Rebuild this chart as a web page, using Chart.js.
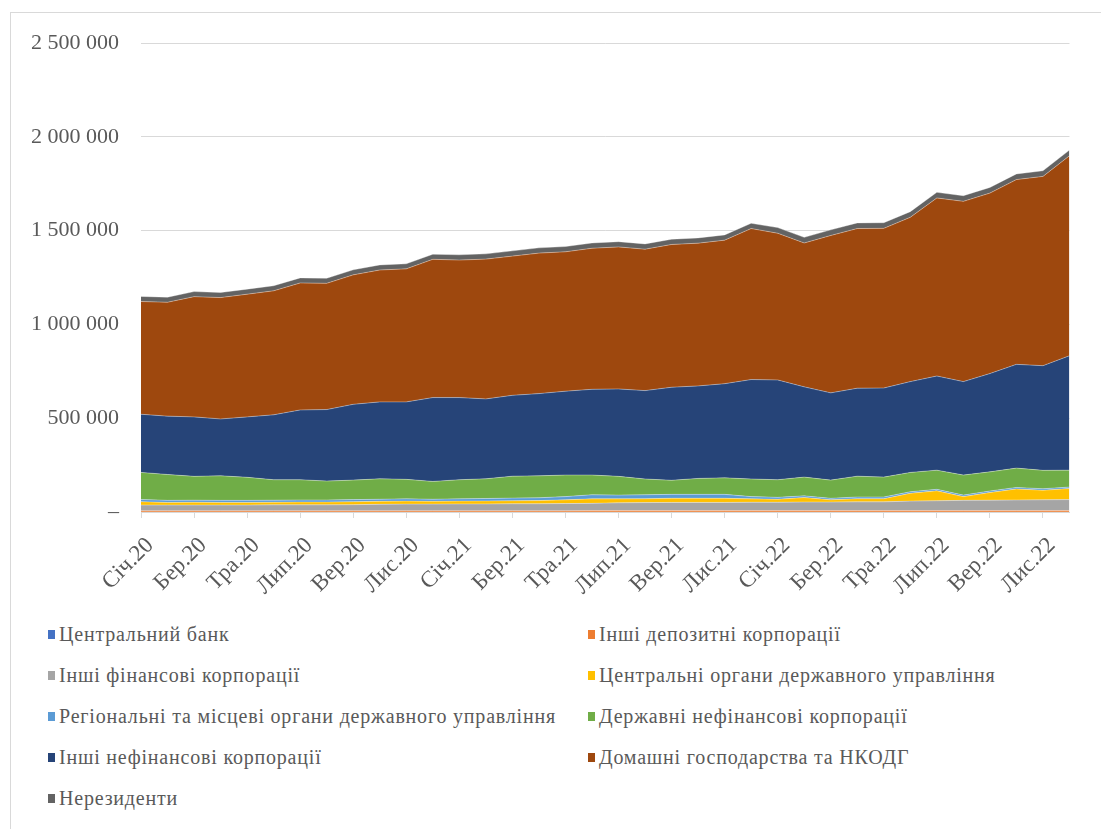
<!DOCTYPE html>
<html>
<head>
<meta charset="utf-8">
<script src="https://cdn.jsdelivr.net/npm/chart.js@4/dist/chart.umd.min.js"></script>
<style>
  body { margin: 0; background: #fff; font-family: "Liberation Serif", serif; }
  #frame { position: absolute; left: 10px; top: 12px; width: 1090px; height: 830px;
           border-left: 1px solid #d9d9d9; border-top: 1px solid #d9d9d9; }
  #chart { position: absolute; left: 0; top: 0; }
  #legend { position: absolute; left: 48px; top: 622px; display: grid;
            grid-template-columns: 540px 500px; row-gap: 16px; color: #595959;
            font-size: 20px; letter-spacing: 0.8px; }
  .item { display: flex; align-items: center; height: 25px; white-space: nowrap; }
  .box { width: 7px; height: 9px; margin-right: 4px; }
</style>
</head>
<body>
<div id="frame"></div>
<canvas id="chart" width="1103" height="610"></canvas>
<div id="legend"></div>
<script>
const labels = [
  'Січ.20','Лют.20','Бер.20','Кві.20','Тра.20','Чер.20','Лип.20','Сер.20','Вер.20','Жов.20','Лис.20','Гру.20',
  'Січ.21','Лют.21','Бер.21','Кві.21','Тра.21','Чер.21','Лип.21','Сер.21','Вер.21','Жов.21','Лис.21','Гру.21',
  'Січ.22','Лют.22','Бер.22','Кві.22','Тра.22','Чер.22','Лип.22','Сер.22','Вер.22','Жов.22','Лис.22','Гру.22'
];

const centralBank = [0,0,0,0,0,0,0,0,0,0,0,0, 0,0,0,0,0,0,0,0,0,0,0,0, 0,0,0,0,0,0,0,0,0,0,0,0];
const otherDeposit = [7000,7000,7000,7000,7000,7000,7000,7000,7000,7000,7000,7000,
  7000,7000,7000,7000,7000,8000,8000,8000,8000,8000,8000,8000,
  8000,8000,8000,8000,8000,8000,8000,8000,8000,8000,8000,8000];
const otherFinancial = [30000,30000,30000,30000,30000,31000,31000,31000,32000,34000,35000,35000,
  36000,36000,37000,37000,38000,38000,41000,42000,43000,43000,43000,44000,
  44000,45000,45000,46000,46000,50000,52000,54000,55000,56000,57000,58000];
const centralGov = [18000,14000,15000,14000,14000,14000,15000,15000,16000,16000,16000,15000,
  15000,16000,16000,17000,20000,24000,21000,21000,22000,22000,22000,18000,
  16000,24000,12000,17000,17000,42000,53000,20000,41000,59000,51000,59000];
const regionalGov = [12000,11000,11000,11000,11000,11000,11000,11000,11000,11000,12000,11000,
  12000,13000,14000,15000,17000,22000,20000,21000,21000,21000,21000,12000,
  10000,9000,8000,9000,9000,8000,8000,8000,8000,8000,8000,8000];
const stateNonfin = [144000,138000,127000,131000,123000,109000,108000,101000,104000,109000,104000,95000,
  102000,105000,117000,117000,115000,105000,100000,84000,75000,85000,88000,94000,
  94000,100000,97000,111000,106000,103000,102000,107000,102000,103000,98000,90000];
const otherNonfin = [310000,311000,317000,303000,322000,346000,372000,381000,404000,410000,413000,447000,
  438000,426000,431000,438000,447000,457000,466000,471000,496000,493000,502000,530000,
  532000,481000,465000,469000,475000,484000,502000,498000,524000,553000,558000,610000];
const households = [601000,607000,641000,647000,654000,661000,677000,673000,690000,703000,709000,737000,
  733000,745000,742000,749000,743000,752000,757000,754000,761000,761000,765000,805000,
  782000,767000,839000,851000,851000,876000,949000,961000,962000,985000,1009000,1066000];
const nonResidents = [27000,27000,27000,27000,27000,27000,27000,27000,27000,27000,27000,27000,
  28000,28000,28000,28000,28000,28000,28000,28000,28000,28000,28000,28000,
  30000,30000,30000,30000,30000,30000,30000,30000,30000,30000,30000,30000];

const yTicks = [0, 500000, 1000000, 1500000, 2000000, 2500000];

const series = [
  ['Центральний банк', centralBank, '#4472C4'],
  ['Інші депозитні корпорації', otherDeposit, '#ED7D31'],
  ['Інші фінансові корпорації', otherFinancial, '#A5A5A5'],
  ['Центральні органи державного управління', centralGov, '#FFC000'],
  ['Регіональні та місцеві органи державного управління', regionalGov, '#5B9BD5'],
  ['Державні нефінансові корпорації', stateNonfin, '#70AD47'],
  ['Інші нефінансові корпорації', otherNonfin, '#264478'],
  ['Домашні господарства та НКОДГ', households, '#9E480E'],
  ['Нерезиденти', nonResidents, '#636363']
];

const datasets = series.map((s, i) => ({
  label: s[0],
  data: s[1],
  backgroundColor: s[2],
  borderColor: 'rgba(255,255,255,0.35)',
  borderWidth: 1,
  pointRadius: 0,
  tension: 0,
  fill: i === 0 ? 'origin' : '-1'
}));

function fmt(v) {
  if (v === 0) return '–';
  return String(v).replace(/\B(?=(\d{3})+(?!\d))/g, ' ');
}

const chart = new Chart(document.getElementById('chart'), {
  type: 'line',
  data: { labels: labels, datasets: datasets },
  options: {
    responsive: false,
    animation: false,
    layout: { padding: { top: 43, right: 32, left: 0, bottom: 0 } },
    plugins: { legend: { display: false }, tooltip: { enabled: false } },
    scales: {
      x: {
        offset: false,
        afterFit: s => { s.height = 98; },
        grid: {
          drawOnChartArea: false,
          drawTicks: true,
          tickLength: 6,
          color: c => (c.index % 2 === 0 ? '#d9d9d9' : 'rgba(0,0,0,0)')
        },
        border: { color: '#d9d9d9' },
        ticks: {
          autoSkip: false,
          minRotation: 45,
          maxRotation: 45,
          padding: 14,
          labelOffset: 9,
          color: '#595959',
          font: { family: 'Liberation Serif', size: 23 },
          callback: function (v, i) { return i % 2 === 0 ? this.getLabelForValue(v) : ''; }
        }
      },
      y: {
        stacked: true,
        min: 0,
        max: 2500000,
        afterFit: s => { s.width = 141; },
        afterBuildTicks: s => { s.ticks = yTicks.map(v => ({ value: v })); },
        grid: { color: '#d9d9d9', drawTicks: false },
        border: { display: false },
        ticks: {
          padding: 22,
          color: '#595959',
          font: { family: 'Liberation Serif', size: 22 },
          callback: v => fmt(v)
        }
      }
    }
  }
});

const legend = document.getElementById('legend');
chart.data.datasets.forEach(ds => {
  const item = document.createElement('div');
  item.className = 'item';
  const box = document.createElement('span');
  box.className = 'box';
  box.style.background = ds.backgroundColor;
  const txt = document.createElement('span');
  txt.textContent = ds.label;
  item.appendChild(box);
  item.appendChild(txt);
  legend.appendChild(item);
});
</script>
</body>
</html>
